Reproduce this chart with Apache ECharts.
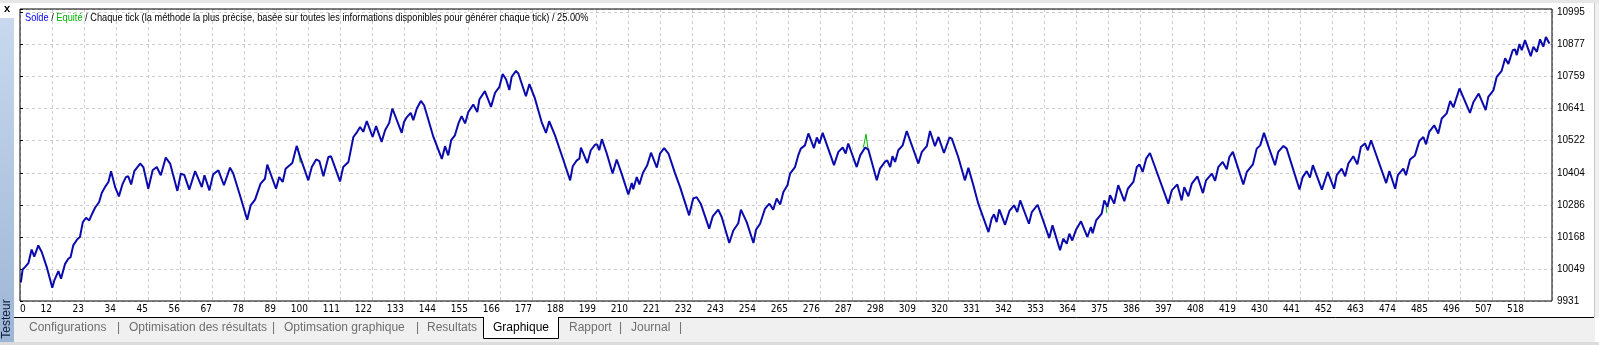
<!DOCTYPE html>
<html><head><meta charset="utf-8">
<script src="https://cdn.jsdelivr.net/npm/echarts@6/dist/echarts.min.js"></script>
<style>html,body{margin:0;padding:0;background:#fff;overflow:hidden}#c{width:1599px;height:345px}</style>
</head><body><div id="c"></div>
<script>
// ---- data ----
const xTickLabels = ['0','12','23','34','45','56','67','78','89','100','111','122','133','144','155','166','177','188','199','210','221','232','243','254','265','276','287','298','309','320','331','342','353','364','375','386','397','408','419','430','441','452','463','474','485','496','507','518'];
const yTickLabels = ['9931','10049','10168','10286','10404','10522','10641','10759','10877','10995'];
const tradeIndex = [0.3,0.9,1.7,2.9,4.0,4.9,6.3,7.5,9.2,11.1,11.8,13.2,14.1,15.5,16.6,17.4,18.3,19.7,20.6,21.6,22.7,23.8,24.8,25.8,27.2,28.1,29.2,30.4,31.3,32.7,34.0,35.2,36.4,37.2,38.2,39.3,41.3,42.4,44.1,45.6,47.0,48.4,50.1,51.6,54.1,55.3,56.5,58.2,60.2,62.5,63.4,65.1,66.4,68.2,70.1,72.2,73.3,75.6,78.1,79.3,80.8,82.7,84.2,85.0,88.0,89.1,90.3,91.3,93.6,95.1,96.3,99.1,100.3,101.8,102.9,104.3,106.0,106.9,108.0,110.0,111.1,112.9,114.6,115.9,116.9,118.0,119.2,121.2,122.4,124.3,125.5,126.9,128.0,131.2,132.0,132.9,134.3,135.2,136.4,137.8,138.9,142.1,145.0,146.1,147.2,148.2,149.5,150.7,151.8,153.0,154.1,155.8,157.2,157.9,159.8,161.9,163.3,164.8,165.9,167.1,168.2,169.0,170.5,171.3,173.9,175.1,177.0,179.3,180.8,181.9,183.9,186.8,189.1,190.0,191.4,192.3,192.8,195.0,196.2,197.7,198.4,199.1,200.0,201.7,203.7,205.1,206.8,209.1,210.3,210.8,212.0,212.9,214.1,215.6,216.9,218.9,220.0,221.4,222.9,225.2,226.9,230.0,231.4,232.6,234.0,236.9,238.1,240.0,241.2,243.8,245.2,246.9,247.8,249.8,252.1,253.0,254.4,256.1,257.6,258.9,260.1,261.3,262.4,263.8,264.7,266.4,267.5,268.4,269.8,271.0,272.9,273.9,274.8,275.9,279.8,281.3,282.8,283.8,284.7,287.6,288.8,290.5,291.6,294.5,295.6,297.3,298.1,299.1,299.9,300.8,301.9,303.4,304.8,308.8,310.0,311.7,312.8,314.5,315.7,317.6,319.5,320.3,322.5,324.8,326.0,327.7,329.4,332.9,334.0,334.8,335.7,336.6,338.6,340.1,341.7,342.8,343.8,346.8,347.8,349.8,353.8,354.9,357.5,358.6,359.8,360.7,361.7,363.0,364.7,366.9,368.1,368.7,369.9,371.8,372.7,373.8,374.7,376.1,377.5,379.6,380.8,382.7,383.9,384.8,385.9,387.1,388.4,394.7,395.9,397.8,399.3,400.2,401.6,402.8,404.7,406.6,407.7,409.7,410.8,411.9,413.4,414.8,415.7,416.9,420.5,421.7,423.8,425.1,426.3,427.6,429.4,431.4,432.5,434.3,435.4,439.8,440.9,442.3,443.4,444.4,447.5,449.5,451.7,452.6,454.3,455.5,456.6,458.3,459.7,460.9,462.3,463.3,464.4,469.6,470.7,472.7,473.6,475.5,476.4,477.8,479.5,481.0,482.4,483.3,484.4,486.1,487.5,488.7,490.4,491.6,492.7,494.8,498.4,499.6,501.4,503.8,504.7,506.5,507.6,509.3,510.5,511.6,513.1,513.9,514.5,515.4,516.2,517.3,519.3,520.2,521.4,522.5,523.6,524.5,525.7];
const balance = [10000,10047,10056,10071,10121,10095,10136,10111,10056,9980,10007,10041,10013,10068,10087,10093,10136,10159,10167,10222,10238,10228,10253,10275,10296,10329,10351,10370,10410,10351,10317,10361,10388,10391,10361,10410,10438,10425,10345,10413,10425,10395,10460,10438,10337,10401,10395,10342,10410,10351,10395,10339,10398,10413,10358,10423,10401,10321,10231,10284,10305,10364,10382,10434,10345,10388,10370,10419,10440,10503,10462,10376,10425,10453,10447,10391,10462,10465,10432,10372,10425,10444,10536,10555,10573,10555,10595,10536,10576,10518,10561,10588,10641,10551,10591,10608,10625,10598,10641,10669,10653,10536,10455,10502,10468,10524,10542,10586,10613,10586,10628,10656,10628,10674,10705,10647,10699,10721,10768,10748,10709,10758,10780,10770,10686,10731,10678,10591,10551,10594,10542,10450,10376,10428,10450,10456,10497,10440,10487,10508,10508,10487,10528,10475,10401,10453,10401,10324,10366,10343,10388,10361,10403,10432,10478,10423,10475,10495,10475,10401,10351,10247,10309,10314,10290,10198,10243,10268,10241,10145,10191,10218,10268,10222,10145,10194,10216,10272,10290,10268,10309,10287,10333,10358,10401,10425,10468,10493,10505,10549,10495,10534,10512,10551,10432,10481,10497,10475,10512,10425,10468,10497,10490,10376,10419,10444,10450,10425,10465,10444,10487,10505,10558,10438,10481,10502,10558,10502,10536,10477,10534,10530,10462,10376,10422,10358,10290,10185,10235,10251,10222,10269,10212,10263,10284,10259,10302,10216,10259,10286,10163,10210,10118,10161,10142,10179,10154,10194,10225,10167,10204,10181,10228,10253,10302,10278,10321,10290,10358,10299,10345,10370,10425,10435,10407,10456,10477,10290,10339,10361,10302,10351,10317,10364,10391,10329,10376,10401,10374,10425,10444,10417,10462,10481,10361,10407,10435,10493,10505,10551,10493,10432,10481,10503,10493,10342,10388,10410,10386,10432,10342,10407,10345,10395,10419,10391,10438,10465,10435,10499,10512,10487,10524,10366,10410,10345,10395,10419,10395,10453,10468,10521,10536,10509,10555,10579,10549,10604,10623,10669,10645,10715,10625,10665,10696,10635,10684,10709,10758,10780,10826,10805,10856,10859,10838,10879,10856,10893,10834,10869,10850,10896,10869,10905,10881];
// equity only where it departs from balance (null = gap)
const equityIndex = [95.6,96.3,96.6,96.6,289.9,290.8,291.6,291.6,373.3,373.6];
const equityValue = [10495,10442,10450,null,10497,10546,10484,null,10280,10255];

// ---- chart ----
const X_STEP = 11;
const Y_MIN = +yTickLabels[0];
const Y_STEP = (+yTickLabels[yTickLabels.length - 1] - Y_MIN) / (yTickLabels.length - 1);
const balanceData = tradeIndex.map((x, i) => [x, balance[i]]);
const equityData = equityIndex.map((x, i) => [x, equityValue[i]]);

const chart = echarts.init(document.getElementById('c'), null, {renderer: 'canvas', width: 1599, height: 345});
const narrow = "'Liberation Sans Narrow','DejaVu Sans Condensed','Liberation Sans',sans-serif";
const sans = "'Liberation Sans','DejaVu Sans',sans-serif";
const grid = {color: '#cdcdcd', type: [3, 3], width: 1};

const tabs = [
  ['Configurations', 29], ['|', 117], ['Optimisation des résultats', 129], ['|', 272],
  ['Optimsation graphique', 284], ['|', 416], ['Resultats', 427], ['Rapport', 569], ['|', 619],
  ['Journal', 631], ['|', 679]
];
const graphics = [
  {type: 'rect', shape: {x: 0, y: 0, width: 1599, height: 3}, style: {fill: '#e6e6e6'}, z: 1, silent: true},
  {type: 'rect', shape: {x: 1595, y: 3, width: 4, height: 315}, style: {fill: '#f0f0f0'}, z: 1},
  {type: 'line', shape: {x1: 1594.5, y1: 3, x2: 1594.5, y2: 318}, style: {stroke: '#c8c8c8', lineWidth: 1}, z: 1},
  {type: 'rect', shape: {x: 0, y: 18, width: 14, height: 327},
    style: {fill: new echarts.graphic.LinearGradient(0, 0, 0, 1, [{offset: 0, color: '#c8d9ee'}, {offset: 1, color: '#9db5d5'}])}, z: 1},
  {type: 'text', x: 7, y: 9, style: {text: 'x', font: 'bold 11px ' + sans, fill: '#000', align: 'center', verticalAlign: 'middle'}, z: 5},
  {type: 'text', x: 7, y: 319, rotation: Math.PI / 2, style: {text: 'Testeur', font: '12px ' + sans, fill: '#0e1e3a', align: 'center', verticalAlign: 'middle'}, z: 5},
  {type: 'rect', shape: {x: 14, y: 318, width: 1581, height: 24}, style: {fill: '#f0f0f0'}, z: 1},
  {type: 'rect', shape: {x: 0, y: 342, width: 1599, height: 3}, style: {fill: '#dcdcdc'}, z: 1},
  {type: 'line', shape: {x1: 14, y1: 317.5, x2: 483, y2: 317.5}, style: {stroke: '#000', lineWidth: 1}, z: 3},
  {type: 'line', shape: {x1: 559, y1: 317.5, x2: 1594, y2: 317.5}, style: {stroke: '#000', lineWidth: 1}, z: 3},
  {type: 'rect', shape: {x: 483, y: 317, width: 76, height: 21}, style: {fill: '#fff'}, z: 2},
  {type: 'polyline', shape: {points: [[483.5, 317], [483.5, 338.5], [558.5, 338.5], [558.5, 317]]}, style: {stroke: '#000', fill: null, lineWidth: 1}, z: 3},
  {type: 'text', x: 493, y: 328, style: {text: 'Graphique', font: '12px ' + sans, fill: '#000', verticalAlign: 'middle'}, z: 5},
  {type: 'text', x: 25, y: 17.5, scaleX: 0.84, style: {
    text: '{b|Solde} {k|/} {g|Equité} {k|/ Chaque tick (la méthode la plus précise, basée sur toutes les informations disponibles pour générer chaque tick) / 25.00%}',
    font: '11px ' + sans, verticalAlign: 'middle',
    rich: {b: {fill: '#0000ff', font: '11px ' + sans}, g: {fill: '#00b400', font: '11px ' + sans}, k: {fill: '#000', font: '11px ' + sans}}
  }, z: 10}
].concat(tabs.map(t => ({type: 'text', x: t[1], y: 328, style: {text: t[0], font: '12px ' + sans, fill: '#6e6e6e', verticalAlign: 'middle'}, z: 5})));

chart.setOption({
  animation: false,
  backgroundColor: '#fff',
  grid: {left: 20, right: 47, top: 9, bottom: 44, show: true, borderColor: '#000', borderWidth: 1, backgroundColor: 'transparent', z: 4},
  xAxis: {
    type: 'value', min: 0, max: 526.6, interval: X_STEP,
    axisLine: {show: false}, axisTick: {show: false},
    splitLine: {show: true, lineStyle: grid},
    axisLabel: {
      margin: 3, align: 'right', alignMinLabel: 'left', fontSize: 10, fontFamily: narrow, color: '#000',
      formatter: v => { const k = Math.round(v / X_STEP); return (Math.abs(v - k * X_STEP) < 1e-6 && k < xTickLabels.length) ? xTickLabels[k] : ''; }
    }
  },
  yAxis: {
    type: 'value', position: 'right', min: Y_MIN, max: 11008, interval: Y_STEP,
    axisLine: {show: false},
    axisTick: {show: true, length: 3, lineStyle: {color: '#000'}},
    splitLine: {show: true, lineStyle: grid},
    axisLabel: {
      margin: 5, fontSize: 10, fontFamily: sans, color: '#000',
      formatter: v => { const k = (v - Y_MIN) / Y_STEP, r = Math.round(k); return (Math.abs(k - r) < 1e-3 && r >= 0 && r < yTickLabels.length) ? yTickLabels[r] : ''; }
    }
  },
  graphic: graphics,
  series: [
    {type: 'line', data: equityData, showSymbol: false, connectNulls: false, lineStyle: {color: '#00b400', width: 1}, z: 2},
    {type: 'line', data: balanceData, showSymbol: false, lineStyle: {color: '#0a0aad', width: 2}, z: 3}
  ]
});
</script></body></html>
